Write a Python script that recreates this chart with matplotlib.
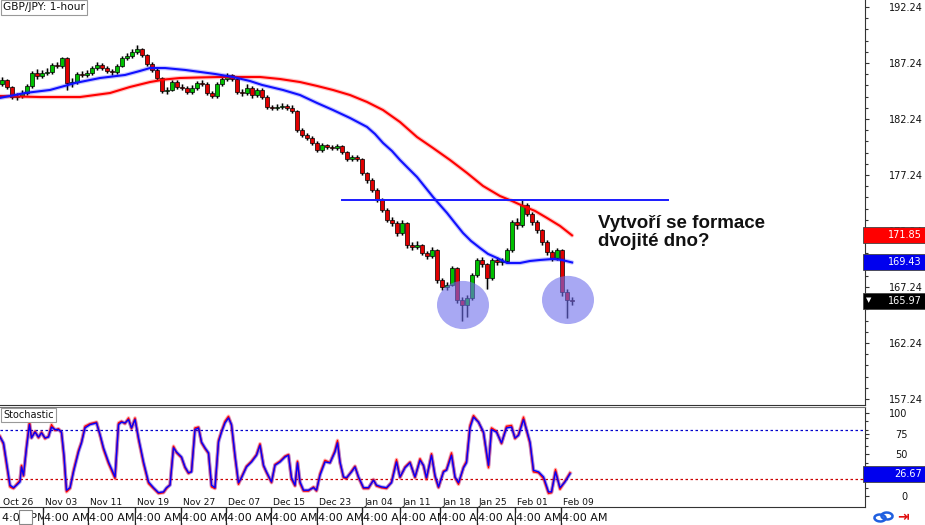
import numpy as np
import matplotlib
matplotlib.use("Agg")
import matplotlib.pyplot as plt
from matplotlib.patches import Rectangle, Ellipse
from matplotlib.transforms import blended_transform_factory as blend

# ---------------- data ----------------
opens = [185.40,185.72,185.10,184.20,184.29,184.56,185.19,186.35,186.08,186.35,
         186.44,187.06,186.97,187.69,185.45,185.54,186.26,186.17,186.35,186.79,
         187.06,186.79,186.53,186.44,186.97,187.69,187.87,188.22,188.49,187.95,
         187.15,186.62,185.90,184.74,184.83,185.54,185.10,185.01,184.65,185.01,
         185.45,185.40,184.56,184.29,185.37,185.81,186.17,185.81,184.65,184.56,
         185.01,184.38,184.83,184.20,183.31,183.22,183.30,183.40,183.25,182.95,
         181.26,180.81,180.54,180.10,179.47,179.92,179.74,179.65,179.83,179.29,
         178.67,178.85,178.67,177.42,176.79,175.90,175.01,174.12,173.22,172.95,
         172.06,172.95,170.99,170.81,170.99,170.27,170.01,170.54,167.86,167.24,
         167.42,168.94,166.08,165.63,166.26,168.31,169.65,169.29,168.04,169.65,
         169.47,169.60,170.54,173.04,172.77,174.56,173.76,173.04,172.33,171.26,
         170.36,169.83,170.54,166.79,166.08]
closes = [185.72,185.10,184.20,184.29,184.56,185.19,186.35,186.08,186.35,186.44,
          187.06,186.97,187.69,185.45,185.54,186.26,186.17,186.35,186.79,187.06,
          186.79,186.53,186.44,186.97,187.69,187.87,188.22,188.49,187.95,187.15,
          186.62,185.90,184.74,184.83,185.54,185.10,185.01,184.65,185.01,185.45,
          185.40,184.56,184.29,185.37,185.81,186.17,185.81,184.65,184.56,185.01,
          184.38,184.83,184.20,183.31,183.22,183.30,183.40,183.25,182.95,181.26,
          180.81,180.54,180.10,179.47,179.92,179.74,179.65,179.83,179.29,178.67,
          178.85,178.67,177.42,176.79,175.90,175.01,174.12,173.22,172.95,172.06,
          172.95,170.99,170.81,170.99,170.27,170.01,170.54,167.86,167.24,167.42,
          168.94,166.08,165.63,166.26,168.31,169.65,169.29,168.04,169.65,169.47,
          169.60,170.54,173.04,172.77,174.56,173.76,173.04,172.33,171.26,170.36,
          169.83,170.54,166.79,166.08,165.97]
highs = [185.95,185.85,185.20,184.55,184.80,185.40,186.55,186.70,186.60,186.75,
         187.25,187.30,187.80,187.75,185.90,186.45,186.50,186.60,187.00,187.35,
         187.20,186.95,186.70,187.15,187.85,188.10,188.45,188.85,188.60,188.05,
         187.30,186.75,186.00,185.10,185.75,185.70,185.35,185.15,185.25,185.65,
         185.70,185.50,184.70,185.55,186.00,186.35,186.30,185.95,184.90,185.40,
         185.15,185.05,185.00,184.35,183.50,183.55,183.65,183.60,183.45,183.05,
         181.40,181.00,180.70,180.25,180.10,180.05,179.95,180.05,179.95,179.40,
         179.05,179.00,178.80,177.55,176.95,176.05,175.20,174.30,173.45,173.10,
         173.20,173.05,171.25,171.30,171.10,170.45,170.80,170.65,168.00,167.70,
         169.15,169.00,166.30,166.50,168.50,169.85,169.90,169.40,169.85,169.90,
         169.85,170.75,173.25,173.40,175.00,174.70,173.90,173.20,172.45,171.40,
         170.50,170.75,170.65,167.10,166.35]
lows = [185.20,184.95,184.05,183.95,184.10,184.40,185.05,185.85,185.90,186.15,
        186.30,186.75,186.80,184.85,185.10,185.35,185.95,186.00,186.20,186.65,
        186.60,186.35,186.20,186.30,186.85,187.50,187.70,188.05,187.80,187.00,
        186.45,185.70,184.55,184.50,184.70,184.95,184.80,184.45,184.50,184.85,
        185.15,184.35,184.10,184.15,185.20,185.65,185.60,184.45,184.30,184.40,
        184.10,184.20,184.00,183.10,183.00,183.05,183.10,183.05,182.75,181.05,
        180.60,180.35,179.90,179.30,179.30,179.55,179.45,179.50,179.10,178.50,
        178.50,178.45,177.25,176.55,175.70,174.80,173.90,173.00,172.70,171.80,
        171.90,170.75,170.50,170.60,170.05,169.75,169.85,167.60,166.95,167.00,
        167.30,165.80,164.20,164.60,166.10,168.15,169.05,167.10,167.90,169.20,
        169.20,169.40,170.40,172.40,172.60,173.55,172.80,172.10,171.00,170.10,
        169.60,169.65,166.40,164.50,165.60]

# moving averages (bar index, value)
ma100_x = [-0.4, 4.6, 9.6, 14.6, 19.6, 24.6, 27.6, 29.6, 32.6, 36.6, 39.6, 42.6, 46.2, 49.6, 52.0,
           56.2, 59.6, 63.0, 66.2, 69.6, 73.0, 74.6, 76.2, 78.0, 79.6, 81.2, 83.0, 84.6, 86.2,
           87.6, 89.0, 90.6, 92.2, 93.8, 95.6, 97.2, 99.0, 101.0, 103.6, 105.6, 107.6, 110.2,
           112.0, 114.0]
ma100_v = [184.12, 184.56, 184.83, 185.45, 185.90, 186.17, 186.53, 186.79, 186.79, 186.62, 186.44,
           186.26, 185.99, 185.63, 185.28, 184.83, 184.38, 183.67, 183.04, 182.33, 181.53, 180.90,
           180.10, 179.38, 178.58, 177.86, 177.06, 176.17, 175.28, 174.56, 173.85, 172.95, 172.06,
           171.35, 170.72, 170.19, 169.83, 169.38, 169.38, 169.56, 169.65, 169.74, 169.65, 169.43]
ma200_x = [-0.4, 7.6, 15.6, 18.6, 21.6, 25.6, 29.6, 32.6, 35.6, 39.6, 43.6, 47.6, 51.6, 55.6,
           59.6, 63.0, 66.2, 69.6, 73.0, 76.2, 79.6, 83.0, 86.2, 89.6, 93.0, 96.2, 99.6, 102.0,
           104.2, 106.6, 109.0, 111.6, 114.0]
ma200_v = [184.29, 184.20, 184.20, 184.38, 184.56, 185.10, 185.54, 185.77, 185.90, 185.95, 185.99,
           185.99, 185.99, 185.81, 185.54, 185.19, 184.83, 184.38, 183.76, 183.04, 181.97, 180.63,
           179.65, 178.58, 177.42, 176.26, 175.36, 174.92, 174.47, 174.03, 173.40, 172.69, 171.85]

neckline_price = 175.01
neckline_span = (68.0, 133.2)
bottoms = [(92.2, 165.63), (113.2, 166.08)]

price_ticks = [157.24, 162.24, 167.24, 172.24, 177.24, 182.24, 187.24, 192.24]
last_ma200, last_ma100, last_price = 171.85, 169.43, 165.97

stoch_x = [-0.4, 0.3, 0.9, 1.6, 2.3, 2.9, 3.6, 3.9, 4.3, 4.9,
           5.5, 5.9, 6.6, 7.3, 7.9, 8.6, 9.3, 9.9, 10.6, 11.3,
           11.9, 12.4, 12.9, 13.6, 14.3, 15.3, 15.9, 16.6, 17.6, 18.9,
           19.6, 20.3, 21.3, 22.6, 23.3, 23.9, 24.6, 25.3, 25.9, 26.6,
           27.3, 28.3, 29.3, 30.3, 31.3, 32.3, 32.9, 33.6, 34.3, 34.9,
           35.9, 36.6, 37.3, 37.9, 38.6, 39.3, 39.9, 40.6, 41.3, 41.9,
           42.6, 43.3, 43.9, 44.6, 45.3, 45.9, 46.6, 47.3, 47.9, 48.9,
           49.9, 50.9, 51.6, 52.3, 52.9, 53.9, 54.6, 55.6, 56.6,
           57.3, 57.9, 58.6, 59.1, 59.6, 60.3, 61.3, 62.3, 62.9, 63.6,
           64.6, 65.6, 66.6, 67.1, 67.6, 68.3, 68.9, 69.9, 70.6, 71.3,
           72.3, 73.3, 74.3, 74.9, 75.9, 76.9, 77.9, 78.9, 79.6, 80.6,
           81.6, 82.6, 83.6, 84.3, 84.9, 85.9, 86.6, 87.3, 88.3, 88.9,
           89.9, 90.6, 91.3, 92.3, 92.9, 93.6, 94.3, 95.3, 96.3, 97.3,
           97.9, 98.9, 99.9, 100.9, 101.9, 102.6, 103.3, 104.3, 104.9, 105.6,
           106.3, 107.3, 108.3, 109.3, 109.9, 110.7, 111.6, 112.6, 113.6]
stoch_d = [71, 64, 41, 13, 10, 13, 17, 35, 25, 58,
           86, 70, 77, 71, 76, 70, 71, 83, 80, 80,
           77, 49, 7, 10, 29, 53, 64, 82, 86, 88,
           74, 58, 41, 23, 86, 89, 88, 92, 82, 92,
           70, 41, 17, 10, 4, 5, 10, 13, 58, 53,
           47, 35, 28, 29, 80, 82, 65, 58, 52, 13,
           10, 65, 77, 88, 94, 86, 49, 16, 22, 35,
           41, 49, 61, 37, 29, 17, 37, 41, 47, 49,
           22, 13, 40, 17, 7, 7, 10, 7, 25, 41,
           40, 53, 64, 41, 23, 22, 29, 35, 23, 10,
           10, 19, 13, 11, 10, 16, 41, 23, 34, 40,
           23, 43, 37, 22, 49, 25, 11, 29, 31, 49,
           23, 16, 34, 40, 82, 95, 89, 77, 37, 80,
           77, 64, 82, 83, 70, 73, 92, 80, 65, 31,
           29, 23, 5, 5, 29, 10, 17, 26.67]
stoch_k = [72, 62, 38, 11, 9, 14, 19, 37, 24, 60,
           90, 70, 78, 70, 77, 69, 72, 86, 79, 81,
           76, 46, 5, 9, 31, 55, 65, 84, 87, 89,
           73, 56, 39, 21, 88, 90, 87, 94, 81, 94,
           68, 39, 15, 9, 3, 4, 9, 14, 60, 52,
           46, 34, 27, 30, 82, 83, 64, 57, 51, 11,
           9, 67, 78, 90, 96, 85, 47, 14, 23, 36,
           42, 50, 63, 36, 28, 16, 38, 42, 48, 50,
           20, 12, 42, 15, 6, 6, 11, 6, 27, 43,
           40, 55, 67, 40, 22, 21, 30, 36, 22, 9,
           9, 20, 12, 10, 9, 17, 44, 22, 35, 41,
           22, 45, 36, 20, 51, 23, 10, 30, 32, 52,
           22, 14, 35, 42, 85, 97, 89, 76, 34, 82,
           78, 63, 84, 85, 69, 74, 95, 79, 63, 29,
           28, 21, 3, 4, 32, 8, 18, 28]
stoch_levels = (80, 20)
stoch_last = 26.67
stoch_ticks = [0, 25, 50, 75, 100]

date_labels = ["Oct 26", "Nov 03", "Nov 11", "Nov 19", "Nov 27", "Dec 07", "Dec 15",
               "Dec 23", "Jan 04", "Jan 11", "Jan 18", "Jan 25", "Feb 01", "Feb 09"]
date_pos = [0.2, 8.6, 17.6, 27.0, 36.2, 45.2, 54.2, 63.4, 72.4, 80.0, 88.0, 95.4, 103.0, 112.2]
time_labels = ["4:00 PM"] + ["4:00 AM"] * 13

# ---------------- figure ----------------
W, H = 925, 525
fig = plt.figure(figsize=(W / 100, H / 100), dpi=100)
fig.patch.set_facecolor("white")

def fx(px):
    return px / W

def fy(py):
    return 1 - py / H

ax = fig.add_axes([0, fy(405), fx(865), 405 / H])
ax2 = fig.add_axes([0, fy(507), fx(865), 100 / H])
XL = (-0.4, 172.6)
ax.set_xlim(*XL)
ax2.set_xlim(*XL)
ax.set_ylim(156.70, 192.865)
ax2.set_ylim(-13.25, 107.2)

for a in (ax, ax2):
    a.set_facecolor("white")
    a.spines["left"].set_visible(False)
    a.spines["right"].set_color("#333333")
    a.spines["bottom"].set_color("#333333")
    a.set_xticks([])
    a.yaxis.tick_right()
ax.spines["top"].set_visible(False)
ax2.spines["top"].set_color("#777777")

# candles
x = np.arange(len(closes))
o = np.array(opens); c = np.array(closes)
hi = np.array(highs); lo = np.array(lows)
ax.vlines(x, lo, hi, color="#bdbdbd", lw=2.4, zorder=2)
ax.vlines(x, lo, hi, color="black", lw=0.8, zorder=3)
body_bottom = np.minimum(o, c)
body_h = np.maximum(np.abs(c - o), 0.06)
cols = np.where(c >= o, "#00c000", "#e00000")
ax.bar(x, body_h, bottom=body_bottom, width=0.62, color=cols,
       edgecolor="black", linewidth=0.5, zorder=4)

# moving averages
ax.plot(ma200_x, ma200_v, color="#ff0000", lw=3.2, alpha=0.22, zorder=5, solid_capstyle="round")
ax.plot(ma200_x, ma200_v, color="#ff0000", lw=1.5, zorder=5, solid_joinstyle="round")
ax.plot(ma100_x, ma100_v, color="#0000ff", lw=3.2, alpha=0.22, zorder=5, solid_capstyle="round")
ax.plot(ma100_x, ma100_v, color="#1010ff", lw=1.5, zorder=5, solid_joinstyle="round")

# neckline
ax.plot(neckline_span, [neckline_price] * 2, color="#1a1aff", lw=1.4, zorder=6)

# circles
for cx, cy in bottoms:
    ax.add_patch(Ellipse((cx, cy), 10.4, 4.3, facecolor=(0.43, 0.43, 0.92),
                         alpha=0.6, edgecolor="none", zorder=7))

# price axis ticks
ax.set_yticks(price_ticks)
ax.set_yticklabels([f"{t:.2f}" for t in price_ticks])
ax.set_yticks(np.arange(157.24, 192.3, 1.0), minor=True)
ax.tick_params(axis="y", which="both", direction="out", length=3, width=0.8,
               color="#333333", labelsize=7, pad=14.4, labelcolor="#111111")
ax.tick_params(axis="y", which="minor", length=2.5)

# stochastic
ax2.axhline(stoch_levels[0], color="#0000cc", lw=0.9, ls=(0, (2, 2)), zorder=2)
ax2.axhline(stoch_levels[1], color="#cc0000", lw=0.9, ls=(0, (2, 2)), zorder=2)
ax2.plot(stoch_x, stoch_k, color="#ff0000", lw=2.6, alpha=0.3, zorder=3)
ax2.plot(stoch_x, stoch_d, color="#0000ff", lw=2.6, alpha=0.3, zorder=3)
ax2.plot(stoch_x, stoch_k, color="#ff0000", lw=1.0, zorder=4)
ax2.plot(stoch_x, stoch_d, color="#0000ff", lw=1.0, zorder=5)
ax2.set_yticks(stoch_ticks)
ax2.set_yticklabels([str(t) for t in stoch_ticks])
ax2.set_yticks(np.arange(0, 101, 10), minor=True)
ax2.tick_params(axis="y", which="both", direction="out", length=3, width=0.8,
                color="#333333", labelsize=7, pad=27.4, labelcolor="#111111")
ax2.tick_params(axis="y", which="minor", length=2.5)
for lbl in ax2.get_yticklabels():
    lbl.set_horizontalalignment("right")

for lab, p in zip(date_labels, date_pos):
    ax2.text(p, -7.5, lab, ha="left", va="center", fontsize=6.6, color="#111111", zorder=6)

# bottom time strip
tr = blend(ax2.transData, fig.transFigure)
for i, (lab, p) in enumerate(zip(time_labels, date_pos)):
    if i > 0:
        fig.add_artist(plt.Line2D([p - 0.4, p - 0.4], [fy(508), fy(525)], transform=tr,
                                  color="#222222", lw=1.0, zorder=10 + 2 * i))
    fig.text(p - 0.2, fy(518), lab, transform=tr, ha="left", va="center", fontsize=8,
             color="#111111", zorder=11 + 2 * i,
             bbox=dict(facecolor="white", edgecolor="none", pad=0.2))
fig.add_artist(Rectangle((fx(19), fy(524)), fx(13), 14 / H, transform=fig.transFigure,
                         facecolor="white", edgecolor="#888888", lw=0.8, zorder=40))

# icons bottom-right
for (ex, ey) in [(880, 518), (887, 516)]:
    fig.add_artist(Ellipse((fx(ex), fy(ey)), fx(11), 7 / H, angle=15, transform=fig.transFigure,
                           facecolor="none", edgecolor="#1f5fe0", lw=1.8, zorder=40))
fig.text(fx(897), fy(517), "\u21e5", fontsize=10, color="#e01010", ha="left", va="center",
         fontweight="bold", zorder=40)

# value boxes on right axis
def value_box(axis, value, text, face, tri=False):
    yp = H - axis.transData.transform((0, value))[1]
    fig.add_artist(Rectangle((fx(863), fy(yp + 8)), fx(62), 16 / H, transform=fig.transFigure,
                             facecolor=face, edgecolor="#444444", lw=0.6, zorder=30))
    fig.text(fx(922), fy(yp), text, ha="right", va="center", fontsize=7, color="white", zorder=31)
    if tri:
        fig.text(fx(866), fy(yp - 1), "\u25bc", ha="left", va="center", fontsize=5,
                 color="white", zorder=31)

value_box(ax, last_ma200, f"{last_ma200:.2f}", "#ff0000")
value_box(ax, last_ma100, f"{last_ma100:.2f}", "#0000ee")
value_box(ax, last_price, f"{last_price:.2f}", "#000000", tri=True)
value_box(ax2, stoch_last, f"{stoch_last:.2f}", "#0000ee")

# labels
fig.text(fx(3), fy(7.5), "GBP/JPY: 1-hour", fontsize=7.7, ha="left", va="center", color="#111111",
         zorder=30, bbox=dict(facecolor="white", edgecolor="#999999", pad=1.6, lw=0.8))
fig.text(fx(3), fy(415), "Stochastic", fontsize=7, ha="left", va="center", color="#111111",
         zorder=30, bbox=dict(facecolor="white", edgecolor="#999999", pad=1.6, lw=0.8))

fig.text(fx(598), fy(232.5), "Vytvoří se formace\ndvojité dno?", fontsize=13.5,
         family="Liberation Sans", fontweight="bold", ha="left", va="center",
         linespacing=1.1, color="#111111", zorder=30)

fig.savefig("out.png", dpi=100, facecolor="white")
